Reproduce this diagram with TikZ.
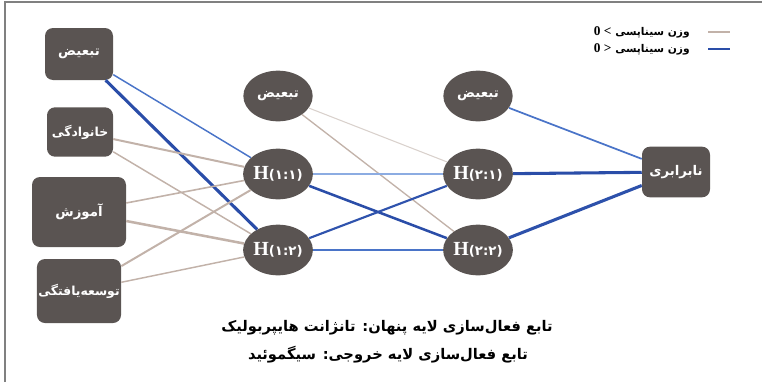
\documentclass[tikz,border=0pt]{standalone}
\usepackage{fontspec}
\setmainfont{Liberation Serif}
\newfontfamily\fa[Script=Arabic]{DejaVu Sans}
\TeXXeTstate=1
\usetikzlibrary{shapes.geometric}
\definecolor{caja}{HTML}{5A5452}
\definecolor{marron}{HTML}{C2B2A9}
\definecolor{marronclaro}{HTML}{D9D1CC}
\definecolor{azul}{HTML}{2A4DA8}
\definecolor{azulmedio}{HTML}{4A74C8}
\definecolor{azulclaro}{HTML}{8CACE2}
\definecolor{marco}{HTML}{808080}
\tikzstyle{entrada}=[rectangle, rounded corners=6pt, fill=caja, text=white, inner sep=1pt, font=\fa\bfseries\fontsize{10}{12}\selectfont]
\tikzstyle{neurona}=[ellipse, fill=caja, text=white, inner sep=0pt, minimum width=52pt, minimum height=38pt, font=\fa\bfseries\fontsize{10}{12}\selectfont]
\tikzstyle{pie}=[font=\fa\bfseries\fontsize{11}{13}\selectfont]
\tikzstyle{leyenda}=[anchor=east, inner sep=0pt, font=\fa\bfseries\fontsize{8}{10}\selectfont]
\newcommand{\etiq}[1]{{\rmfamily\bfseries\fontsize{15}{15}\selectfont H}(#1)}

\begin{document}
\begin{tikzpicture}[x=0.75pt, y=-0.75pt]
        \useasboundingbox (0,0) rectangle (762,382);
        \draw[marco, line width=1.1pt] (5,382) -- (5,2) -- (762,2);

        %% Capa de entrada
        \node[entrada, minimum width=51pt, minimum height=39pt] (in1) at (79,54) {تبعیض};
        \node[entrada, minimum width=49.5pt, minimum height=37pt, font=\fa\bfseries\fontsize{9.3}{11}\selectfont] (in2) at (80,132) {خانوادگی};
        \node[entrada, minimum width=70.5pt, minimum height=52.5pt] (in3) at (79,212) {آموزش};
        \node[entrada, minimum width=63pt, minimum height=48pt, font=\fa\bfseries\fontsize{9.3}{11}\selectfont] (in4) at (79,291) {توسعه‌یافتگی};

        %% Capas ocultas
        \node[neurona] (b1) at (278,96) {تبعیض};
        \node[neurona] (h11) at (278,174) {\etiq{۱:۱}};
        \node[neurona] (h12) at (278,250) {\etiq{۱:۲}};
        \node[neurona] (b2) at (478,96) {تبعیض};
        \node[neurona] (h21) at (478,174) {\etiq{۲:۱}};
        \node[neurona] (h22) at (478,250) {\etiq{۲:۲}};

        %% Salida
        \node[entrada, minimum width=51pt, minimum height=38pt] (out) at (676,172) {نابرابری};

        % Aristas
        \draw[line width=1.1pt, azulmedio] (in1) -- (h11);
        \draw[line width=2.3pt, azul] (in1) -- (h12);
        \draw[line width=1.5pt, marron] (in2) -- (h11);
        \draw[line width=1.1pt, marron] (in2) -- (h12);
        \draw[line width=1.2pt, marron] (in3) -- (h11);
        \draw[line width=1.9pt, marron] (in3) -- (h12);
        \draw[line width=1.5pt, marron] (in4) -- (h11);
        \draw[line width=1.1pt, marron] (in4) -- (h12);
        \draw[line width=0.8pt, marronclaro] (b1) -- (h21);
        \draw[line width=1pt, marron] (b1) -- (h22);
        \draw[line width=1.1pt, azulclaro] (h11) -- (h21);
        \draw[line width=1.9pt, azul] (h11) -- (h22);
        \draw[line width=1.6pt, azul!85!azulmedio] (h12) -- (h21);
        \draw[line width=1.1pt, azulmedio] (h12) -- (h22);
        \draw[line width=1.3pt, azulmedio] (b2) -- (out);
        \draw[line width=2.3pt, azul] (h21) -- (out);
        \draw[line width=2.3pt, azul!90!azulmedio] (h22) -- (out);

        %% Leyenda
        \coordinate (l1a) at (708,32);
        \coordinate (l1b) at (730,32);
        \coordinate (l2a) at (708,49);
        \coordinate (l2b) at (730,49);
        \draw[line width=2.2pt, marron] (l1a) -- (l1b);
        \draw[line width=2.2pt, azul] (l2a) -- (l2b);
        \node[leyenda] (ley1) at (690,32) {{\rmfamily\fontsize{10}{10}\selectfont 0 <} \beginR وزن سیناپسی\endR};
        \node[leyenda] (ley2) at (690,49) {{\rmfamily\fontsize{10}{10}\selectfont 0 >} \beginR وزن سیناپسی\endR};

        %% Funciones de activacion
        \node[pie] (pie1) at (387,328) {\beginR تابع فعال‌سازی لایه پنهان: تانژانت هایپربولیک\endR};
        \node[pie] (pie2) at (388,355) {\beginR تابع فعال‌سازی لایه خروجی: سیگموئید\endR};
    \end{tikzpicture}
\end{document}
